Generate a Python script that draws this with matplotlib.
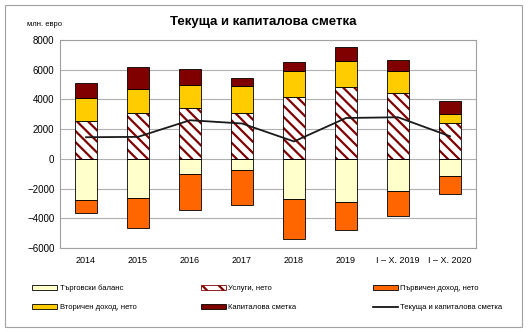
import numpy as np
import matplotlib.pyplot as plt
from matplotlib.patches import Rectangle
from matplotlib.lines import Line2D

# Data (млн. евро)
categories = ['2014', '2015', '2016', '2017', '2018', '2019', 'I – X. 2019', 'I – X. 2020']
trade = [-2760, -2630, -990, -765, -2675, -2900, -2140, -1170]
services = [2580, 3100, 3440, 3100, 4150, 4850, 4450, 2430]
primary = [-880, -2020, -2470, -2315, -2695, -1910, -1730, -1170]
secondary = [1530, 1620, 1500, 1790, 1750, 1710, 1480, 560]
capital = [1010, 1450, 1120, 540, 640, 990, 720, 890]
total = [1455, 1480, 2600, 2380, 1170, 2750, 2800, 1520]

plt.rcParams['hatch.linewidth'] = 1.6
plt.rcParams['font.family'] = ['Liberation Sans', 'DejaVu Sans']

fig = plt.figure(figsize=(5.31, 3.32), dpi=100)
ax = fig.add_axes([60/531, 1 - 248/332, 416/531, 208/332])

x = np.arange(len(categories))
w = 0.41
ec = 'black'
lw = 0.6
hatch = '\\' * 3

ax.bar(x, trade, w, color='#FFFFCC', edgecolor=ec, linewidth=lw, zorder=3)
ax.bar(x, primary, w, bottom=trade, color='#FF6600', edgecolor=ec, linewidth=lw, zorder=3)
ax.bar(x, services, w, color='white', edgecolor='#800000', hatch=hatch, linewidth=0, zorder=3)
ax.bar(x, services, w, color='none', edgecolor=ec, linewidth=lw, zorder=3)
bot = np.array(services)
ax.bar(x, secondary, w, bottom=bot, color='#FFCC00', edgecolor=ec, linewidth=lw, zorder=3)
bot = bot + np.array(secondary)
ax.bar(x, capital, w, bottom=bot, color='#800000', edgecolor=ec, linewidth=lw, zorder=3)
ax.plot(x, total, color='#1a1a1a', linewidth=1.3, zorder=4)

ax.set_xlim(-0.5, len(categories) - 0.5)
ax.set_ylim(-6000, 8000)
ax.set_yticks(np.arange(-6000, 8001, 2000))
ax.set_xticks(x)
ax.set_xticklabels(categories, fontsize=6.5)
ax.tick_params(axis='y', labelsize=7, length=0, pad=4)
ax.tick_params(axis='x', length=0, pad=6)
ax.grid(axis='y', color='#b0b0b0', linewidth=0.8, zorder=0)
for s in ax.spines.values():
    s.set_color('#a0a0a0')
    s.set_linewidth(0.8)

fig.text(263/531, 1 - 22/332, 'Текуща и капиталова сметка',
         ha='center', va='center', fontsize=9.5, fontweight='bold')
fig.text(27/531, 1 - 24/332, 'млн. евро', ha='left', va='center', fontsize=5.5)

# outer border
fig.patches.append(Rectangle((5/531, 5/332), 517/531, 322/332, transform=fig.transFigure,
                             fill=False, edgecolor='#a0a0a0', linewidth=0.8))

h_trade = Rectangle((0, 0), 1, 1, facecolor='#FFFFCC', edgecolor=ec, linewidth=lw)
h_serv = Rectangle((0, 0), 1, 1, facecolor='white', edgecolor='#800000', hatch='\\\\', linewidth=lw)
h_prim = Rectangle((0, 0), 1, 1, facecolor='#FF6600', edgecolor=ec, linewidth=lw)
h_sec = Rectangle((0, 0), 1, 1, facecolor='#FFCC00', edgecolor=ec, linewidth=lw)
h_cap = Rectangle((0, 0), 1, 1, facecolor='#800000', edgecolor=ec, linewidth=lw)
h_tot = Line2D([0], [0], color='black', linewidth=1.2)

# one small legend per column so each column starts where it does in the original
columns = [
    ([h_trade, h_sec], ['Търговски баланс', 'Вторичен доход, нето'], 32),
    ([h_serv, h_cap], ['Услуги, нето', 'Капиталова сметка'], 201),
    ([h_prim, h_tot], ['Първичен доход, нето', 'Текуща и капиталова сметка'], 373),
]
for hs, ls, xpos in columns:
    fig.legend(hs, ls, loc='center left', bbox_to_anchor=(xpos/531, 1 - 298/332),
               fontsize=5.5, frameon=False, handlelength=3.3, handleheight=0.6,
               handletextpad=0.3, labelspacing=1.6, borderpad=0, borderaxespad=0)

fig.savefig('out.png', dpi=100)
